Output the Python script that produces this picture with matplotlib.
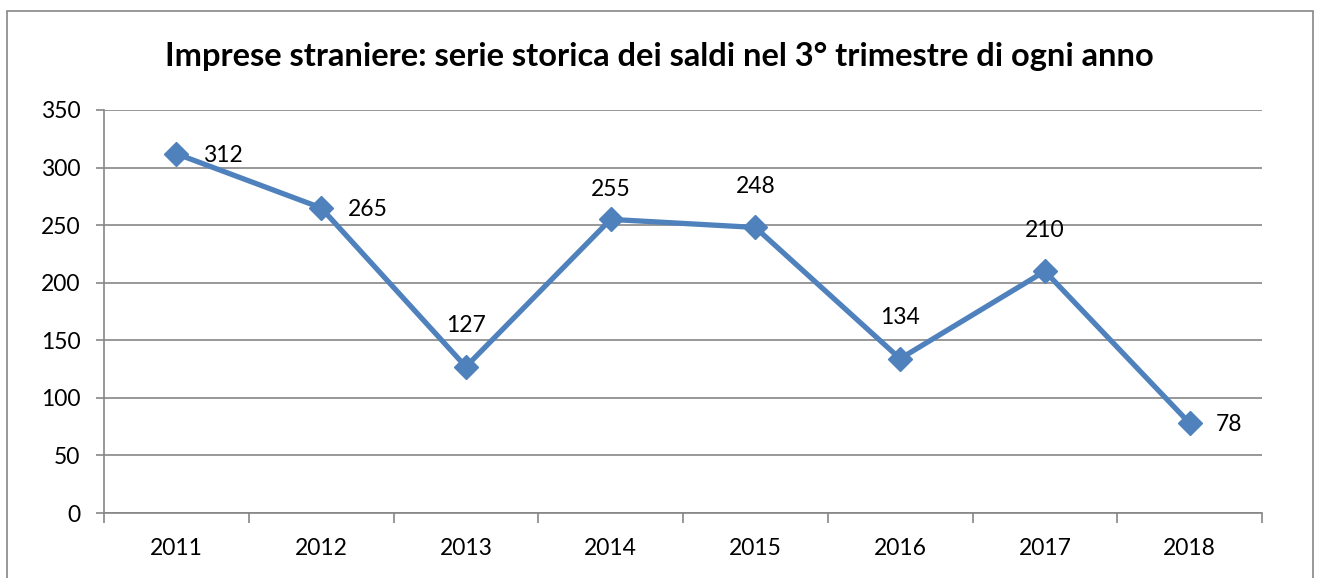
import matplotlib.pyplot as plt
from matplotlib.patches import Rectangle

anni = ['2011', '2012', '2013', '2014', '2015', '2016', '2017', '2018']
saldi = [312, 265, 127, 255, 248, 134, 210, 78]
# posizione etichetta: 'r' a destra, 'a' sopra
pos_etichette = ['r', 'r', 'a', 'a', 'a', 'a', 'a', 'r']
# distanza verticale delle etichette sopra il punto (pt)
dist_sopra = [0, 0, 22, 14, 22, 22, 22, 0]

plt.rcParams['font.family'] = ['Lato', 'DejaVu Sans']

fig = plt.figure(figsize=(13.18, 5.78), dpi=100)
W, H = 1318, 578

# cornice esterna
fig.patches.append(Rectangle((7 / W, -0.05), (1313 - 7) / W, 1.05 - 11 / H,
                             transform=fig.transFigure, fill=False,
                             edgecolor='#868686', linewidth=1.2))

ax = fig.add_axes([104 / W, 1 - 513 / H, (1262 - 104) / W, (513 - 110) / H])

x = list(range(len(anni)))
ax.plot(x, saldi, color='#4F81BD', linewidth=3.8, marker='D', markersize=12.5,
        zorder=3)

for xi, v, p, d in zip(x, saldi, pos_etichette, dist_sopra):
    if p == 'r':
        ax.annotate(str(v), (xi, v), xytext=(19, -1), textcoords='offset points',
                    ha='left', va='center', fontsize=16.5)
    else:
        ax.annotate(str(v), (xi, v), xytext=(0, d), textcoords='offset points',
                    ha='center', va='bottom', fontsize=16.5)

ax.set_xlim(-0.5, len(anni) - 0.5)
ax.set_ylim(0, 350)
ax.set_yticks(range(0, 351, 50))
ax.set_xticks(x)
ax.set_xticklabels(anni)
ax.set_xticks([i - 0.5 for i in range(len(anni) + 1)], minor=True)
ax.tick_params(axis='x', which='major', length=0, pad=18, labelsize=16.5)
ax.tick_params(axis='x', which='minor', length=7, color='#868686', width=1.2)
ax.tick_params(axis='y', length=6, color='#868686', width=1.2, pad=11,
               labelsize=16.5)
ax.grid(axis='y', color='#868686', linewidth=1.2)
ax.set_axisbelow(True)
for s in ['top', 'right']:
    ax.spines[s].set_visible(False)
ax.spines['left'].set_color('#868686')
ax.spines['bottom'].set_color('#868686')
ax.spines['left'].set_linewidth(1.2)
ax.spines['bottom'].set_linewidth(1.2)

fig.text(0.5, 1 - 56 / H,
         'Imprese straniere: serie storica dei saldi nel 3° trimestre di ogni anno',
         ha='center', va='center', fontsize=23.5, fontweight='bold')

plt.savefig('out.png', dpi=100)
